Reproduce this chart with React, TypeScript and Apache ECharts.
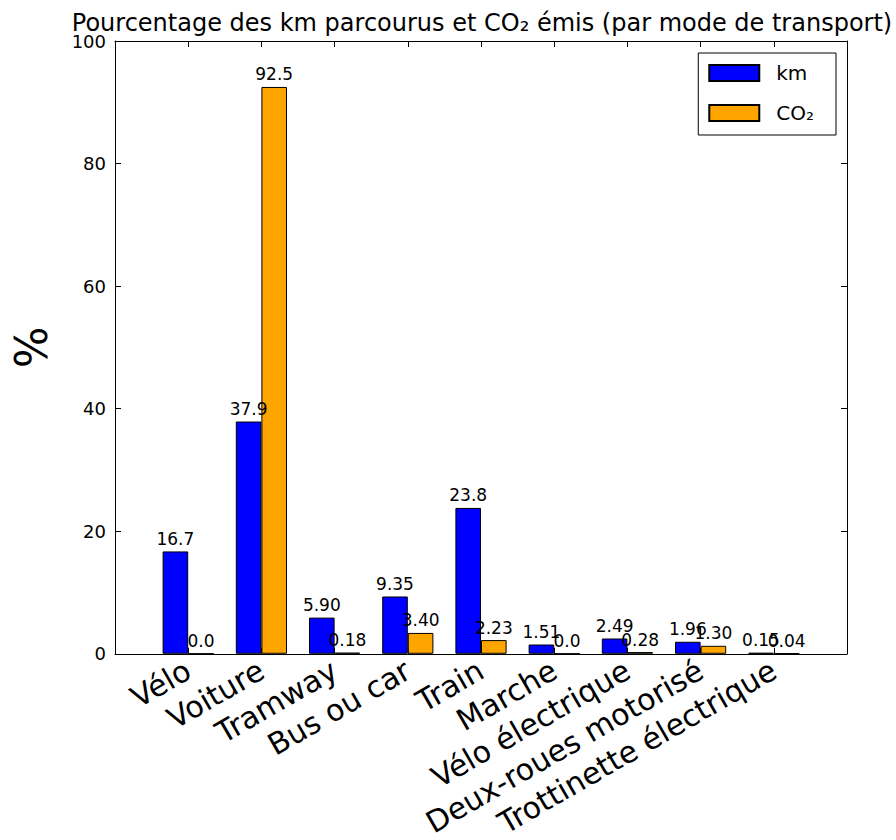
import React, { useEffect, useRef } from "react";
import * as echarts from "echarts";

const categories = [
  "Vélo",
  "Voiture",
  "Tramway",
  "Bus ou car",
  "Train",
  "Marche",
  "Vélo électrique",
  "Deux-roues motorisé",
  "Trottinette électrique",
];
const kmValues = [16.7, 37.9, 5.9, 9.35, 23.8, 1.51, 2.49, 1.96, 0.15];
const co2Values = [0.0, 92.5, 0.18, 3.4, 2.23, 0.0, 0.28, 1.3, 0.04];
const kmLabels = ["16.7", "37.9", "5.90", "9.35", "23.8", "1.51", "2.49", "1.96", "0.15"];
const co2Labels = ["0.0", "92.5", "0.18", "3.40", "2.23", "0.0", "0.28", "1.30", "0.04"];
const yTicks = [0, 20, 40, 60, 80, 100];

const FONT = "DejaVu Sans";

export default function App() {
  const ref = useRef<HTMLDivElement>(null);
  useEffect(() => {
    document.body.style.margin = "0";
    if (!ref.current) return;
    const chart = echarts.init(ref.current, null, { renderer: "svg" });
    const gridLeft = 115;
    const gridRight = 49;
    const plotCenter = gridLeft + (896 - gridLeft - gridRight) / 2;
    const axisLineStyle = { color: "#000", width: 1 };
    const barBorder = { borderColor: "#000", borderWidth: 1 };
    const tickStyle = { show: true, inside: true, length: 6, lineStyle: axisLineStyle };
    const lineStyle = { show: true, onZero: false, lineStyle: axisLineStyle };
    chart.setOption({
      animation: false,
      backgroundColor: "#fff",
      textStyle: { fontFamily: FONT, color: "#000" },
      title: {
        text: "Pourcentage des km parcourus et CO₂ émis (par mode de transport)",
        left: plotCenter - 4,
        textAlign: "center",
        top: 6,
        textStyle: { fontSize: 24, fontWeight: "normal", color: "#000", fontFamily: FONT },
      },
      legend: {
        orient: "vertical",
        right: 60,
        top: 53,
        padding: [10, 22, 12, 10],
        itemWidth: 50,
        itemHeight: 16,
        itemGap: 20,
        icon: "rect",
        backgroundColor: "#fff",
        borderColor: "#000",
        borderWidth: 1,
        borderRadius: 0,
        textStyle: { fontSize: 20, color: "#000", fontFamily: FONT, padding: [0, 0, 0, 12] },
        data: ["km", "CO₂"],
      },
      grid: { left: gridLeft, right: gridRight, top: 41, bottom: 186, containLabel: false },
      xAxis: [
        {
          type: "value",
          min: 0,
          max: 10,
          interval: 1,
          position: "bottom",
          axisLine: lineStyle,
          axisTick: tickStyle,
          splitLine: { show: false },
          axisLabel: {
            rotate: 30,
            margin: 14,
            fontSize: 30,
            color: "#000",
            fontFamily: FONT,
            formatter: (v: number) => {
              const i = Math.round(v) - 1;
              return i >= 0 && i < categories.length ? categories[i] : "";
            },
          },
        },
        {
          type: "value",
          min: 0,
          max: 10,
          interval: 1,
          position: "top",
          axisLine: lineStyle,
          axisTick: tickStyle,
          splitLine: { show: false },
          axisLabel: { show: false },
        },
      ],
      yAxis: [
        {
          type: "value",
          min: 0,
          max: 100,
          interval: 20,
          position: "left",
          name: "%",
          nameLocation: "middle",
          nameRotate: 90,
          nameGap: 62,
          nameTextStyle: { fontSize: 44, color: "#000", fontFamily: FONT },
          axisLine: lineStyle,
          axisTick: tickStyle,
          splitLine: { show: false },
          axisLabel: {
            margin: 9,
            fontSize: 18,
            color: "#000",
            fontFamily: FONT,
            formatter: (v: number) => (yTicks.includes(v) ? String(v) : ""),
          },
        },
        {
          type: "value",
          min: 0,
          max: 100,
          interval: 20,
          position: "right",
          axisLine: lineStyle,
          axisTick: tickStyle,
          splitLine: { show: false },
          axisLabel: { show: false },
        },
      ],
      series: [
        {
          name: "km",
          type: "bar",
          xAxisIndex: 0,
          yAxisIndex: 0,
          barWidth: 25.6,
          barGap: "0%",
          data: kmValues.map((v, i) => [i + 1, v]),
          itemStyle: { color: "#0000ff", ...barBorder },
          label: {
            show: true,
            position: "top",
            distance: 4,
            fontSize: 17,
            color: "#000",
            fontFamily: FONT,
            formatter: (p: any) => kmLabels[p.dataIndex],
          },
        },
        {
          name: "CO₂",
          type: "bar",
          xAxisIndex: 0,
          yAxisIndex: 0,
          barWidth: 25.6,
          barGap: "0%",
          data: co2Values.map((v, i) => [i + 1, v]),
          itemStyle: { color: "#ffa500", ...barBorder },
          label: {
            show: true,
            position: "top",
            distance: 4,
            fontSize: 17,
            color: "#000",
            fontFamily: FONT,
            formatter: (p: any) => co2Labels[p.dataIndex],
          },
        },
      ],
    });
    return () => chart.dispose();
  }, []);
  return <div ref={ref} style={{ width: 896, height: 840 }} />;
}
